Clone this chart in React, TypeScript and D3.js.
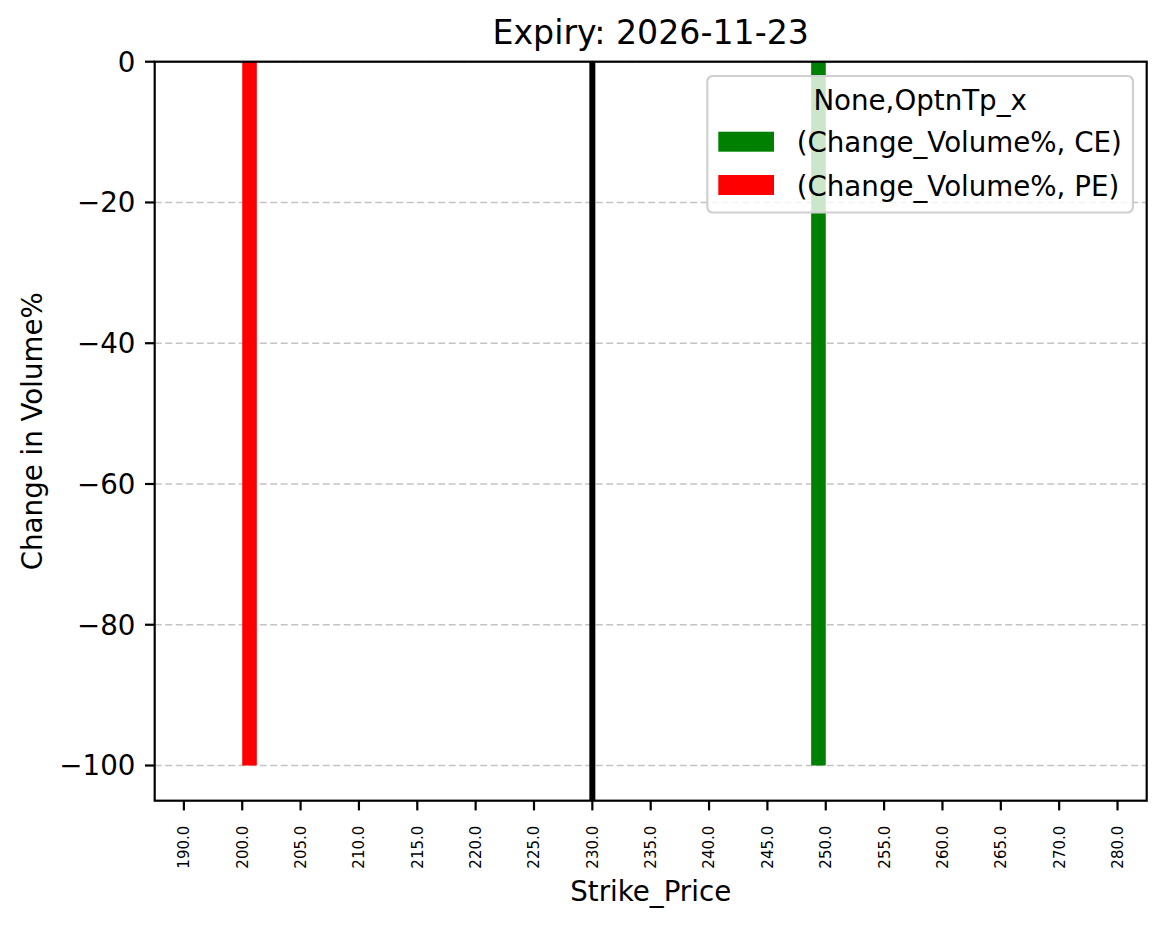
import { useRef, useEffect } from "react";
import * as d3 from "d3";

const strikes = [
  "190.0", "200.0", "205.0", "210.0", "215.0", "220.0", "225.0", "230.0", "235.0",
  "240.0", "245.0", "250.0", "255.0", "260.0", "265.0", "270.0", "280.0",
];
// Change_Volume% for CE and PE per strike (0 where no bar is drawn)
const ceChange = [0, 0, 0, 0, 0, 0, 0, 0, 0, 0, 0, -100, 0, 0, 0, 0, 0];
const peChange = [0, -100, 0, 0, 0, 0, 0, 0, 0, 0, 0, 0, 0, 0, 0, 0, 0];
const yTicks = [0, -20, -40, -60, -80, -100];
const spotStrike = "230.0";
const seriesLabels = ["(Change_Volume%, CE)", "(Change_Volume%, PE)"];
const seriesColors = ["green", "red"];

export default function App() {
  const svgRef = useRef<SVGSVGElement>(null);

  useEffect(() => {
    if (!svgRef.current) return;
    const width = 1166;
    const height = 928;
    const left = 154.7;
    const right = 1146.7;
    const top = 61.7;
    const bottom = 800.7;
    const font = "DejaVu Sans, sans-serif";
    const fs = 27.7;

    const svg = d3.select(svgRef.current);
    svg.selectAll("*").remove();
    svg.attr("width", width).attr("height", height);
    svg.append("rect").attr("width", width).attr("height", height).attr("fill", "white");

    const x = d3.scaleBand().domain(strikes).range([left, right]).padding(0);
    const y = d3.scaleLinear().domain([-105, 0]).range([bottom, top]);
    const bw = x.bandwidth();
    const barW = bw * 0.25;
    const cx = (s: string) => (x(s) || 0) + bw / 2;

    // Grid
    svg.selectAll(".grid")
      .data(yTicks)
      .join("line")
      .attr("x1", left)
      .attr("x2", right)
      .attr("y1", (d) => y(d))
      .attr("y2", (d) => y(d))
      .attr("stroke", "#c4c4c4")
      .attr("stroke-width", 1.4)
      .attr("stroke-dasharray", "7,3.5");

    // Bars
    const bars = strikes.flatMap((s, i) => [
      { s, v: ceChange[i], off: -barW, color: seriesColors[0] },
      { s, v: peChange[i], off: 0, color: seriesColors[1] },
    ]);
    svg.selectAll(".bar")
      .data(bars)
      .join("rect")
      .attr("x", (d) => cx(d.s) + d.off)
      .attr("width", barW)
      .attr("y", (d) => Math.min(y(d.v), y(0)))
      .attr("height", (d) => Math.abs(y(d.v) - y(0)))
      .attr("fill", (d) => d.color);

    // Spot line
    svg.append("line")
      .attr("x1", cx(spotStrike))
      .attr("x2", cx(spotStrike))
      .attr("y1", top)
      .attr("y2", bottom)
      .attr("stroke", "black")
      .attr("stroke-width", 6);

    // Spines
    svg.append("rect")
      .attr("x", left)
      .attr("y", top)
      .attr("width", right - left)
      .attr("height", bottom - top)
      .attr("fill", "none")
      .attr("stroke", "black")
      .attr("stroke-width", 2.2);

    // Y ticks
    const yt = svg.selectAll(".ytick").data(yTicks).join("g");
    yt.append("line")
      .attr("x1", left - 9.7)
      .attr("x2", left)
      .attr("y1", (d) => y(d))
      .attr("y2", (d) => y(d))
      .attr("stroke", "black")
      .attr("stroke-width", 2.2);
    yt.append("text")
      .attr("x", left - 19.3)
      .attr("y", (d) => y(d))
      .attr("dy", "0.36em")
      .attr("text-anchor", "end")
      .attr("font-family", font)
      .attr("font-size", fs)
      .text((d) => (d < 0 ? "\u2212" + Math.abs(d) : String(d)));

    // X ticks
    const xt = svg.selectAll(".xtick").data(strikes).join("g");
    xt.append("line")
      .attr("x1", (d) => cx(d))
      .attr("x2", (d) => cx(d))
      .attr("y1", bottom)
      .attr("y2", bottom + 9.7)
      .attr("stroke", "black")
      .attr("stroke-width", 2.2);
    xt.append("text")
      .attr("transform", (d) => `translate(${cx(d)},${bottom + 25}) rotate(-90)`)
      .attr("dy", "0.36em")
      .attr("text-anchor", "end")
      .attr("font-family", font)
      .attr("font-size", 15)
      .text((d) => d);

    // Labels
    svg.append("text")
      .attr("x", (left + right) / 2)
      .attr("y", 44)
      .attr("text-anchor", "middle")
      .attr("font-family", font)
      .attr("font-size", 33.2)
      .text("Expiry: 2026-11-23");
    svg.append("text")
      .attr("x", (left + right) / 2)
      .attr("y", 900.7)
      .attr("text-anchor", "middle")
      .attr("font-family", font)
      .attr("font-size", fs)
      .text("Strike_Price");
    svg.append("text")
      .attr("transform", `translate(42.3,${(top + bottom) / 2}) rotate(-90)`)
      .attr("text-anchor", "middle")
      .attr("font-family", font)
      .attr("font-size", fs)
      .text("Change in Volume%");

    // Legend
    const lg = svg.append("g");
    lg.append("rect")
      .attr("x", 707.3)
      .attr("y", 76)
      .attr("width", 1133 - 707.3)
      .attr("height", 212.5 - 76)
      .attr("rx", 5.5)
      .attr("fill", "white")
      .attr("fill-opacity", 0.8)
      .attr("stroke", "#d0d0d0")
      .attr("stroke-width", 2.2);
    lg.append("text")
      .attr("x", (707.3 + 1133) / 2)
      .attr("y", 110)
      .attr("text-anchor", "middle")
      .attr("font-family", font)
      .attr("font-size", fs)
      .text("None,OptnTp_x");
    seriesLabels.forEach((label, i) => {
      const yy = 131.7 + i * 43.3;
      lg.append("rect")
        .attr("x", 718.3)
        .attr("y", yy)
        .attr("width", 55.7)
        .attr("height", 20)
        .attr("fill", seriesColors[i]);
      lg.append("text")
        .attr("x", 796.7)
        .attr("y", yy + 20.5)
        .attr("font-family", font)
        .attr("font-size", fs)
        .text(label);
    });
  }, []);

  return (
    <div style={{ position: "absolute", left: 0, top: 0 }}>
      <svg ref={svgRef} style={{ display: "block" }} />
    </div>
  );
}
